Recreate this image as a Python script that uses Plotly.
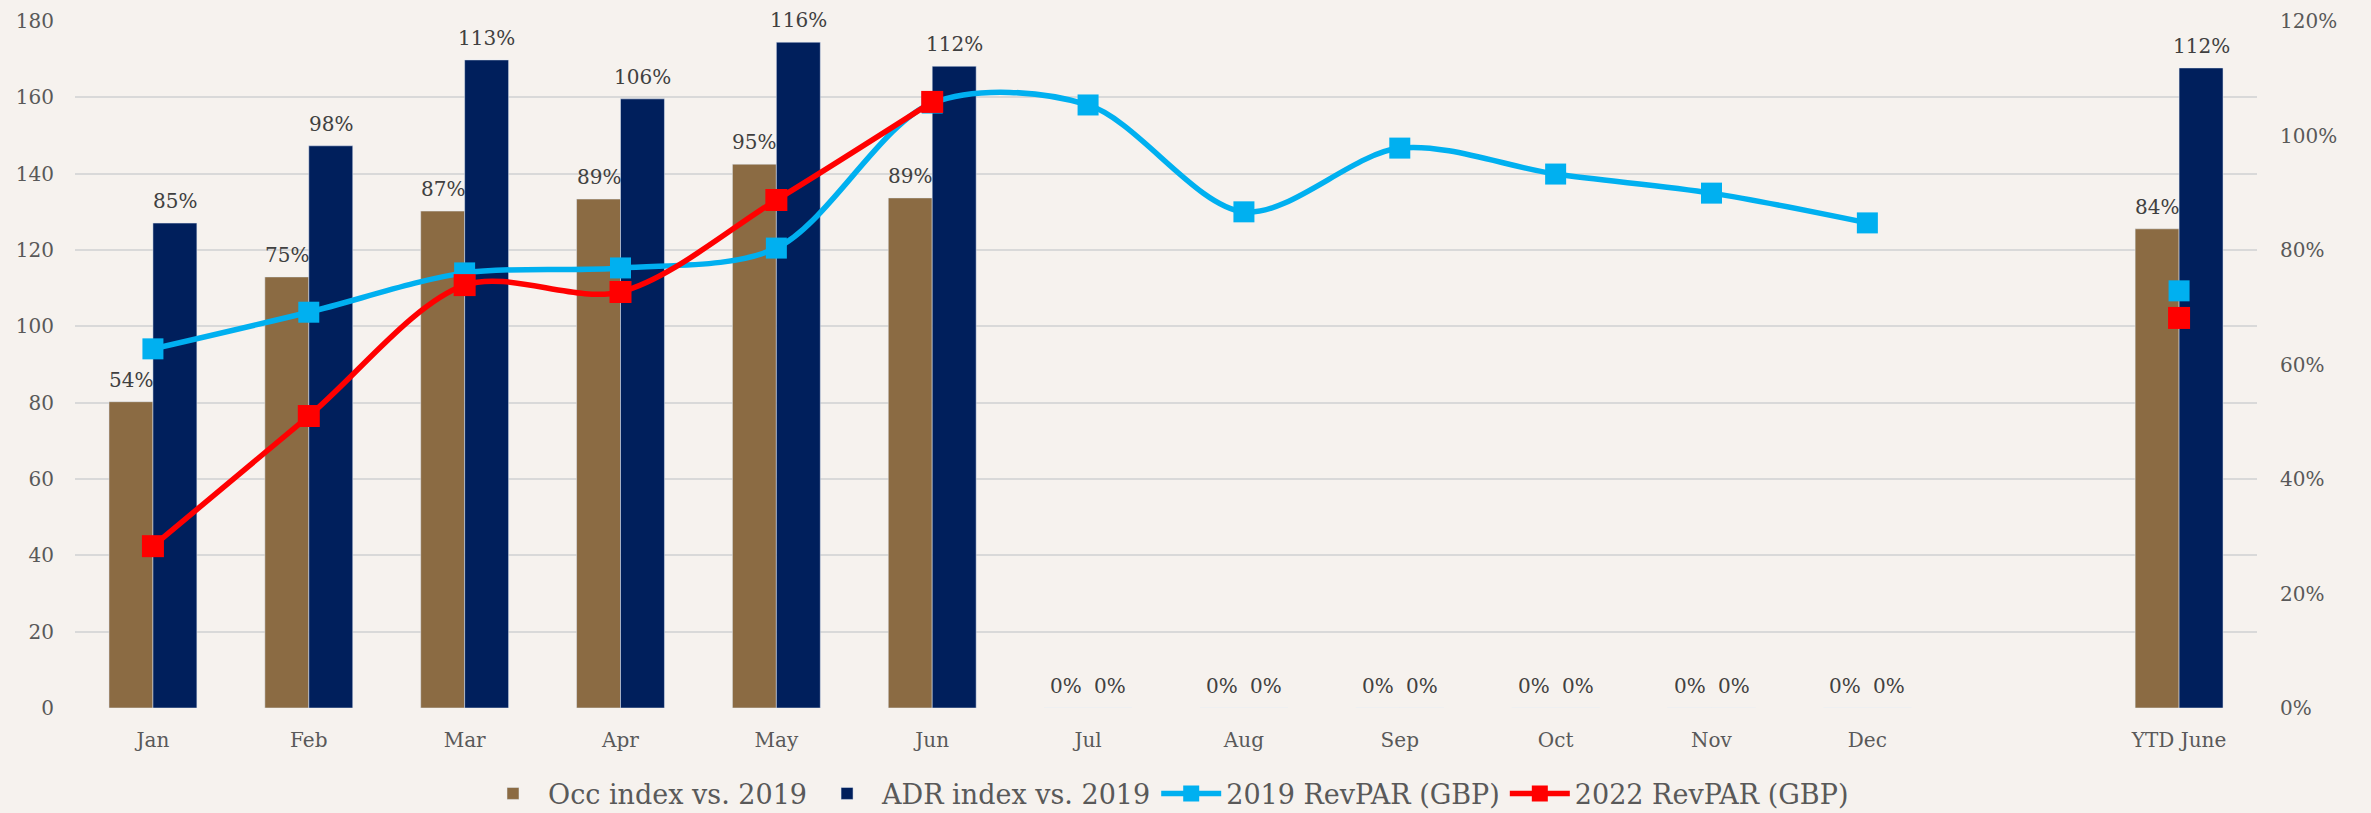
import plotly.graph_objects as go

categories = ["Jan", "Feb", "Mar", "Apr", "May", "Jun", "Jul", "Aug", "Sep", "Oct", "Nov", "Dec", " ", "YTD June"]
occ_index = [0.535, 0.753, 0.868, 0.889, 0.950, 0.891, 0, 0, 0, 0, 0, 0, None, 0.837]
adr_index = [0.847, 0.982, 1.132, 1.064, 1.163, 1.121, 0, 0, 0, 0, 0, 0, None, 1.118]
revpar_2019 = [94.1, 103.7, 114.0, 115.3, 120.5, 158.5, 158.0, 130.0, 146.7, 139.9, 134.9, 127.1, None, 109.3]
revpar_2022 = [42.4, 76.5, 110.8, 109.0, 133.1, 158.8, None, None, None, None, None, None, None, 102.2]

FONT = "DejaVu Serif"
GREY = "#595959"
BG = "#F6F2EE"

fig = go.Figure()
fig.add_trace(go.Bar(
    x=categories, y=occ_index, name="Occ index vs. 2019",
    marker=dict(color="#8B6B43"), yaxis="y",
))
fig.add_trace(go.Bar(
    x=categories, y=adr_index, name="ADR index vs. 2019",
    marker=dict(color="#001F5C"), yaxis="y",
))
fig.add_trace(go.Scatter(
    x=categories, y=revpar_2019, name="2019 RevPAR (GBP)", mode="lines+markers",
    line=dict(color="#00B0F0", width=5.5, shape="spline", smoothing=0.9),
    marker=dict(symbol="square", size=21, color="#00B0F0"),
    connectgaps=False, yaxis="y2", cliponaxis=False,
))
fig.add_trace(go.Scatter(
    x=categories, y=revpar_2022, name="2022 RevPAR (GBP)", mode="lines+markers",
    line=dict(color="#FF0000", width=5.5, shape="spline", smoothing=0.9),
    marker=dict(symbol="square", size=22, color="#FF0000"),
    connectgaps=False, yaxis="y2", cliponaxis=False,
))

# data labels above bars (derived from the bar values)
annotations = []
for series, shift in ((occ_index, -22), (adr_index, 22)):
    for cat, v in zip(categories, series):
        if v is None:
            continue
        annotations.append(dict(
            x=cat, y=v, xref="x", yref="y", text=f"{v:.0%}", showarrow=False,
            xshift=shift, yshift=8, yanchor="bottom",
            font=dict(family=FONT, size=20, color="#404040"),
        ))

fig.update_layout(
    width=2371, height=813,
    paper_bgcolor=BG, plot_bgcolor=BG,
    margin=dict(l=75, r=114, t=21, b=105, autoexpand=False),
    barmode="group", bargap=0.436, bargroupgap=0,
    font=dict(family=FONT, color=GREY, size=20),
    annotations=annotations,
    xaxis=dict(
        type="category", categoryorder="array", categoryarray=categories,
        range=[-0.5, 13.5],
        showgrid=False, zeroline=False, showline=False,
        tickfont=dict(family=FONT, size=20, color=GREY),
        ticks="", ticklabelstandoff=18,
    ),
    yaxis=dict(
        side="right", range=[0, 1.2], dtick=0.2, tickformat=".0%",
        showgrid=False, zeroline=False, showline=False,
        tickfont=dict(family=FONT, size=20, color=GREY),
        ticklabelstandoff=22,
    ),
    yaxis2=dict(
        overlaying="y", side="left", range=[0, 180], dtick=20,
        showgrid=True, gridcolor="#D9D9D9", gridwidth=2,
        zeroline=False, showline=False,
        tickfont=dict(family=FONT, size=20, color=GREY),
        ticklabelstandoff=20,
    ),
    legend=dict(
        orientation="h", x=0.5, xanchor="center", y=-0.125, yanchor="middle",
        font=dict(family=FONT, size=27, color=GREY),
        bgcolor="rgba(0,0,0,0)", traceorder="normal", itemwidth=60,
    ),
    showlegend=True,
)

fig.write_html("out.html", config={"displayModeBar": False},
               post_script="document.body.style.margin='0';")
